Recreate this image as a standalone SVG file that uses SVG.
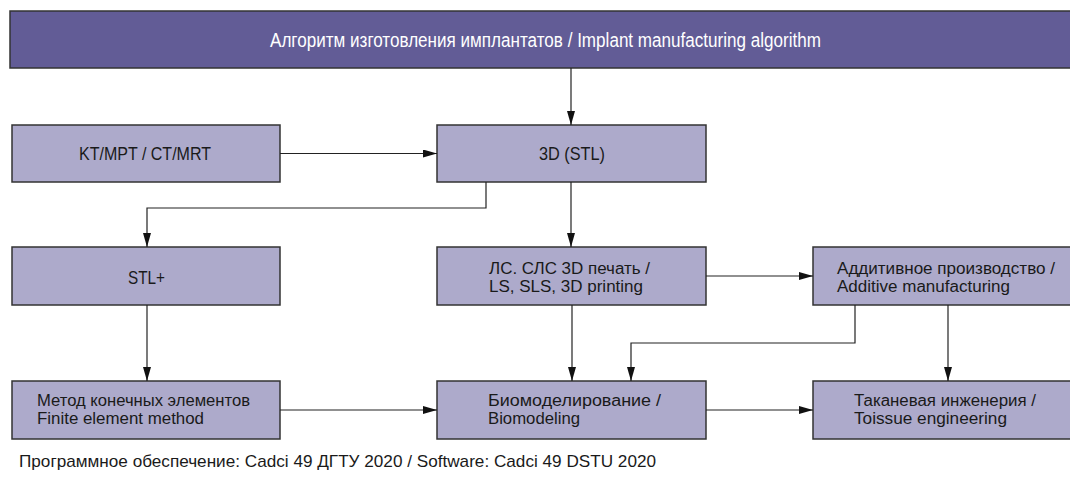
<svg xmlns="http://www.w3.org/2000/svg" width="1070" height="483" viewBox="0 0 1070 483">
<defs>
<marker id="ah" markerWidth="14" markerHeight="8" refX="14" refY="4" orient="auto" markerUnits="userSpaceOnUse">
<path d="M0,0 L14,4 L0,8 Z" fill="#111"/>
</marker>
<style>
.box{fill:#adaacb;stroke:#333;stroke-width:1.5}
.title{fill:#625c96;stroke:#333;stroke-width:1.5}
text{font-family:"Liberation Sans",Arial,sans-serif;font-size:16px;fill:#1a1a1a}
.big{font-size:18px}
.tt{fill:#ffffff;font-size:20px}
.con{fill:none;stroke:#222;stroke-width:1.2;marker-end:url(#ah)}
</style>
</defs>
<g id="title">
<rect class="title" x="10" y="11" width="1070" height="57"/>
<text class="tt" x="270" y="46.5" textLength="551" lengthAdjust="spacingAndGlyphs">Алгоритм изготовления имплантатов / Implant manufacturing algorithm</text>
</g>
<g id="ct">
<rect class="box" x="12" y="125" width="268" height="57"/>
<text class="big" x="79" y="160" textLength="132" lengthAdjust="spacingAndGlyphs">KT/MPT / CT/MRT</text>
</g>
<g id="stl3d">
<rect class="box" x="437" y="125" width="269" height="57"/>
<text class="big" x="539" y="160" textLength="66" lengthAdjust="spacingAndGlyphs">3D (STL)</text>
</g>
<g id="stlplus">
<rect class="box" x="12" y="247" width="268" height="58"/>
<text class="big" x="128" y="284" textLength="37" lengthAdjust="spacingAndGlyphs">STL+</text>
</g>
<g id="ls">
<rect class="box" x="437" y="247" width="269" height="58"/>
<text><tspan x="489" y="273.6" textLength="161" lengthAdjust="spacingAndGlyphs">ЛС. СЛС 3D печать /</tspan><tspan x="489" y="292" textLength="154" lengthAdjust="spacingAndGlyphs">LS, SLS, 3D printing</tspan></text>
</g>
<g id="additive">
<rect class="box" x="813" y="247" width="270" height="58"/>
<text><tspan x="837" y="273.6" textLength="218" lengthAdjust="spacingAndGlyphs">Аддитивное производство /</tspan><tspan x="837" y="292" textLength="173" lengthAdjust="spacingAndGlyphs">Additive manufacturing</tspan></text>
</g>
<g id="fem">
<rect class="box" x="12" y="381" width="268" height="58"/>
<text><tspan x="37" y="406" textLength="213" lengthAdjust="spacingAndGlyphs">Метод конечных элементов</tspan><tspan x="37" y="424.4" textLength="167" lengthAdjust="spacingAndGlyphs">Finite element method</tspan></text>
</g>
<g id="bio">
<rect class="box" x="437" y="381" width="269" height="58"/>
<text><tspan x="488" y="406" textLength="173" lengthAdjust="spacingAndGlyphs">Биомоделирование /</tspan><tspan x="488" y="424.4" textLength="92" lengthAdjust="spacingAndGlyphs">Biomodeling</tspan></text>
</g>
<g id="tissue">
<rect class="box" x="813" y="381" width="270" height="58"/>
<text><tspan x="854" y="406" textLength="182" lengthAdjust="spacingAndGlyphs">Таканевая инженерия /</tspan><tspan x="854" y="424.4" textLength="153" lengthAdjust="spacingAndGlyphs">Toissue engineering</tspan></text>
</g>
<g id="connectors">
<path class="con" d="M571,68 V125"/>
<path class="con" d="M280,153.5 H437"/>
<path class="con" d="M486,182 V208 H147 V247"/>
<path class="con" d="M571,182 V247"/>
<path class="con" d="M706,276 H813"/>
<path class="con" d="M147,305 V381"/>
<path class="con" d="M572,305 V381"/>
<path class="con" d="M855,305 V343 H631 V381"/>
<path class="con" d="M948,305 V381"/>
<path class="con" d="M280,410 H437"/>
<path class="con" d="M706,410 H813"/>
</g>
<text x="19" y="467" style="font-size:17px" textLength="637" lengthAdjust="spacingAndGlyphs">Программное обеспечение: Cadci  49 ДГТУ 2020 / Software: Cadci  49 DSTU 2020</text>
</svg>
